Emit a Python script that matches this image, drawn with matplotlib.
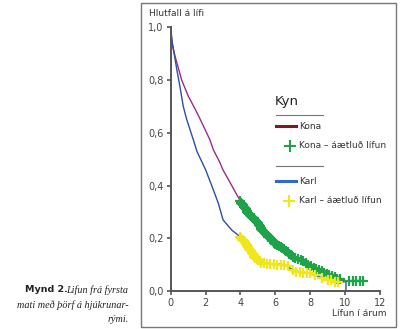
import matplotlib
matplotlib.use("Agg")
import matplotlib.pyplot as plt
from matplotlib.lines import Line2D
from matplotlib.patches import Rectangle

# ---- data ----
karl_t = [0, 0.05, 0.15, 0.35, 0.53, 0.72, 0.92, 1.3, 1.5, 2.0, 2.35, 2.73, 3.0, 3.5, 4.0,
          4.5, 5.0, 5.5, 6.5, 7.0, 7.5, 8.0, 8.5, 9.0, 9.5, 10.05, 10.05]
karl_s = [1.0, 0.96, 0.92, 0.84, 0.775, 0.70, 0.65, 0.573, 0.53, 0.46, 0.40, 0.333, 0.27, 0.231, 0.205,
          0.16, 0.118, 0.105, 0.10, 0.08, 0.07, 0.067, 0.055, 0.042, 0.035, 0.035, 0.0]

kona_t = [0, 0.1, 0.25, 0.63, 1.0, 1.4, 1.7, 2.25, 2.45, 2.8, 3.0, 3.5, 4.0, 4.4, 4.83, 5.2,
          5.6, 6.0, 6.55, 7.1, 7.5, 8.0, 8.3, 8.8, 9.2, 9.6, 10.0, 11.1]
kona_s = [1.0, 0.93, 0.89, 0.80, 0.74, 0.69, 0.65, 0.573, 0.535, 0.49, 0.459, 0.40, 0.34, 0.30,
          0.27, 0.235, 0.206, 0.18, 0.156, 0.125, 0.115, 0.095, 0.085, 0.07, 0.06, 0.045, 0.037, 0.037]

kona_cens_t = [4.0, 4.05, 4.1, 4.15, 4.2, 4.25, 4.3, 4.35, 4.4, 4.45, 4.5, 4.55, 4.6, 4.65, 4.7,
               4.75, 4.8, 4.85, 4.9, 4.95, 5.0, 5.05, 5.1, 5.15, 5.2, 5.25, 5.3, 5.35, 5.4, 5.45,
               5.5, 5.55, 5.6, 5.65, 5.7, 5.75, 5.8, 5.85, 5.9, 5.95, 6.0, 6.1, 6.2, 6.3, 6.4,
               6.5, 6.6, 6.7, 6.8, 6.9, 7.0, 7.15, 7.3, 7.45, 7.6, 7.75, 7.9, 8.05, 8.2, 8.35,
               8.5, 8.65, 8.8, 8.95, 9.1, 9.25, 9.4, 9.55, 9.7, 10.25, 10.45, 10.65, 10.85, 11.05]
kona_cens_s = [0.34, 0.335, 0.33, 0.325, 0.32, 0.315, 0.31, 0.305, 0.30, 0.297, 0.293, 0.289,
               0.285, 0.281, 0.278, 0.275, 0.272, 0.268, 0.265, 0.26, 0.256, 0.25, 0.245, 0.24,
               0.235, 0.231, 0.228, 0.224, 0.22, 0.216, 0.212, 0.209, 0.206, 0.203, 0.20, 0.196,
               0.193, 0.19, 0.187, 0.183, 0.18, 0.176, 0.171, 0.167, 0.162, 0.158, 0.153, 0.147,
               0.141, 0.135, 0.13, 0.124, 0.12, 0.116, 0.112, 0.106, 0.10, 0.094, 0.088, 0.083,
               0.078, 0.074, 0.07, 0.066, 0.062, 0.058, 0.052, 0.047, 0.044, 0.037, 0.037, 0.037,
               0.037, 0.037]

karl_cens_t = [4.0, 4.05, 4.1, 4.15, 4.2, 4.25, 4.3, 4.35, 4.4, 4.45, 4.5, 4.55, 4.6, 4.65, 4.7,
               4.75, 4.8, 4.85, 4.9, 4.95, 5.0, 5.1, 5.2, 5.35, 5.5, 5.7, 5.9, 6.1, 6.3, 6.5,
               6.7, 7.0, 7.2, 7.4, 7.6, 7.8, 8.0, 8.3, 8.7, 9.0, 9.2, 9.4, 9.6]
karl_cens_s = [0.205, 0.2, 0.195, 0.192, 0.19, 0.185, 0.18, 0.175, 0.17, 0.165, 0.16, 0.155,
               0.15, 0.145, 0.14, 0.135, 0.13, 0.127, 0.124, 0.121, 0.118, 0.113, 0.108, 0.105,
               0.104, 0.103, 0.102, 0.10, 0.10, 0.099, 0.095, 0.08, 0.073, 0.072, 0.07, 0.068,
               0.067, 0.06, 0.05, 0.042, 0.04, 0.036, 0.035]

x_ticks = [0, 2, 4, 6, 8, 10, 12]
y_ticks = [0.0, 0.2, 0.4, 0.6, 0.8, 1.0]
y_tick_labels = ["0,0", "0,2", "0,4", "0,6", "0,8", "1,0"]

# ---- styling ----
W, H = 400, 329
fig = plt.figure(figsize=(W / 100, H / 100), dpi=100)
fig.patch.set_facecolor("white")

def fx(px):
    return px / W

def fy(py):
    return 1 - py / H

# outer frame
fig.patches.append(Rectangle((fx(141), fy(326.7)), fx(396) - fx(141), fy(3.3) - fy(326.7),
                             transform=fig.transFigure, fill=False, edgecolor="#777777", lw=1.0))

ax = fig.add_axes([fx(170.7), fy(291), fx(380) - fx(170.7), fy(27.3) - fy(291)])
ax.set_xlim(0, 12)
ax.set_ylim(0, 1.0)
ax.set_facecolor("none")

c_kona = "#9b2c86"
c_karl = "#2c4fa6"
c_green = "#1ea34a"
c_yellow = "#f0e61c"

ax.plot(kona_t, kona_s, color=c_kona, lw=1.0, zorder=2)
ax.plot(karl_t, karl_s, color=c_karl, lw=1.0, zorder=2)
ax.plot(kona_cens_t, kona_cens_s, ls="none", marker="+", ms=7, mew=1.6, color=c_green, zorder=3)
ax.plot(karl_cens_t, karl_cens_s, ls="none", marker="+", ms=7, mew=1.6, color=c_yellow, zorder=3)

for s in ["top", "right"]:
    ax.spines[s].set_visible(False)
for s in ["left", "bottom"]:
    ax.spines[s].set_color("#555555")
    ax.spines[s].set_linewidth(1.4)

ax.set_xticks(x_ticks)
ax.set_yticks(y_ticks)
ax.set_yticklabels(y_tick_labels)
ax.tick_params(direction="out", length=3, width=1.2, color="#555555", labelsize=7,
               labelcolor="#444444", pad=2)

# axis titles
fig.text(fx(149), fy(13), "Hlutfall á lífi", fontsize=6.5, color="#333333", ha="left", va="center")
fig.text(fx(386), fy(314), "Lífun í árum", fontsize=6.5, color="#333333", ha="right", va="center")

# legend (manual)
fig.text(fx(275), fy(101), "Kyn", fontsize=9.5, color="#222222", ha="left", va="center")
fig.add_artist(Line2D([fx(275.7), fx(322.7)], [fy(115), fy(115)], color="#777777", lw=0.8))
fig.add_artist(Line2D([fx(275.7), fx(295.7)], [fy(126.5), fy(126.5)], color="#7a1c24", lw=2.2))
fig.text(fx(299), fy(126.5), "Kona", fontsize=6.5, color="#333333", ha="left", va="center")
fig.add_artist(Line2D([fx(290)], [fy(146)], marker="+", ms=8, mew=1.5, color=c_green, ls="none"))
fig.text(fx(299), fy(146), "Kona – áætluð lífun", fontsize=6.5, color="#333333", ha="left", va="center")
fig.add_artist(Line2D([fx(275.7), fx(322.7)], [fy(166.5), fy(166.5)], color="#777777", lw=0.8))
fig.add_artist(Line2D([fx(275.7), fx(295.7)], [fy(181), fy(181)], color="#2e6cc4", lw=2.2))
fig.text(fx(299), fy(181), "Karl", fontsize=6.5, color="#333333", ha="left", va="center")
fig.add_artist(Line2D([fx(289)], [fy(201)], marker="+", ms=8, mew=1.5, color=c_yellow, ls="none"))
fig.text(fx(299), fy(201), "Karl – áætluð lífun", fontsize=6.5, color="#333333", ha="left", va="center")

# caption
fig.text(fx(68), fy(290), "Mynd 2.", fontsize=6.8, fontweight="bold", color="#222222",
         ha="right", va="center", family="DejaVu Sans")
fig.text(fx(128.5), fy(290), "Lifun frá fyrsta", fontsize=7.3, style="italic", color="#222222",
         ha="right", va="center", family="Liberation Serif")
fig.text(fx(128.5), fy(305), "mati með þörf á hjúkrunar-", fontsize=7.3, style="italic", color="#222222",
         ha="right", va="center", family="Liberation Serif")
fig.text(fx(128.5), fy(319), "rými.", fontsize=7.3, style="italic", color="#222222",
         ha="right", va="center", family="Liberation Serif")

fig.savefig("out.png", dpi=100, facecolor="white")
